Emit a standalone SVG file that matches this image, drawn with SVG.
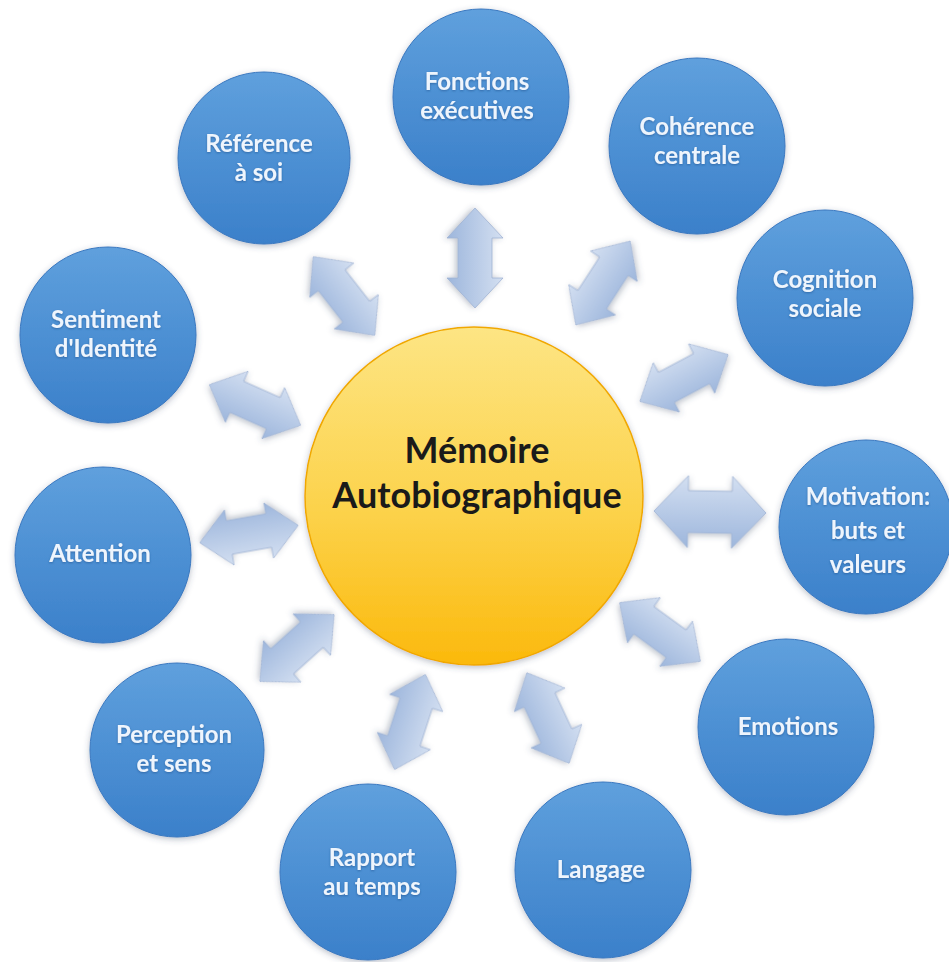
<svg xmlns="http://www.w3.org/2000/svg" xmlns:xlink="http://www.w3.org/1999/xlink" width="949" height="962" viewBox="0 0 949 962">
<defs>
<linearGradient id="gBlue" x1="0" y1="0" x2="0" y2="1">
<stop offset="0" stop-color="#5fa0dd"/>
<stop offset="1" stop-color="#3b80ca"/>
</linearGradient>
<linearGradient id="gSun" x1="0" y1="0" x2="0" y2="1">
<stop offset="0" stop-color="#fde584"/>
<stop offset="0.55" stop-color="#fcd24a"/>
<stop offset="1" stop-color="#fbb90c"/>
</linearGradient>
<linearGradient id="gArrow" x1="0" y1="0" x2="0" y2="1">
<stop offset="0" stop-color="#d3dff1"/>
<stop offset="1" stop-color="#9db6dc"/>
</linearGradient>
<filter id="shadow" x="-20%" y="-20%" width="140%" height="140%">
<feDropShadow dx="0" dy="2" stdDeviation="3" flood-color="#3a4a66" flood-opacity="0.35"/>
</filter>
<filter id="tshadow" x="-10%" y="-20%" width="120%" height="150%">
<feDropShadow dx="0" dy="1" stdDeviation="0.8" flood-color="#1d4f8a" flood-opacity="0.6"/>
</filter>
<path id="a100" d="M-50 0 L-20 -28 L-20 -17 L20 -17 L20 -28 L50 0 L20 28 L20 17 L-20 17 L-20 28 Z"/>
<path id="abig" d="M-56 0 L-22 -36 L-22 -21 L22 -21 L22 -36 L56 0 L22 36 L22 21 L-22 21 L-22 36 Z"/>
<style>
.node circle{fill:url(#gBlue);stroke:#3a78c0;stroke-width:1;filter:url(#shadow)}
.node text{font-family:Lato,"Open Sans","Liberation Sans",sans-serif;font-weight:700;font-size:24px;fill:#eef5fd;text-anchor:middle;filter:url(#tshadow)}
.center circle{fill:url(#gSun);stroke:#f0a800;stroke-width:1.5;filter:url(#shadow)}
.center text{font-family:Lato,"Open Sans","Liberation Sans",sans-serif;font-weight:700;font-size:36px;fill:#1a1a1a;text-anchor:middle}
.arr use{fill:url(#gArrow);stroke:#9fb3d3;stroke-width:0.8;filter:url(#shadow)}
</style>
</defs>
<rect width="949" height="962" fill="#ffffff"/>

<g id="connectors" class="arr">
<use href="#a100" transform="translate(475,258) rotate(90)"/>
<use href="#a100" transform="translate(603,283) rotate(-57)"/>
<use href="#a100" transform="translate(684,378) rotate(-28)"/>
<use href="#abig" transform="translate(710,512) rotate(1)"/>
<use href="#a100" transform="translate(660,632) rotate(36)"/>
<use href="#a100" transform="translate(548,718) rotate(65)"/>
<use href="#a100" transform="translate(410,722) rotate(108)"/>
<use href="#a100" transform="translate(297,648) rotate(138)"/>
<use href="#a100" transform="translate(249,534) rotate(170)"/>
<use href="#a100" transform="translate(255,405) rotate(24)"/>
<use href="#a100" transform="translate(344,296) rotate(52)"/>
</g>

<g id="memoire" class="center">
<circle cx="474" cy="496" r="169"/>
<text x="477" y="463">Mémoire</text>
<text x="477" y="508">Autobiographique</text>
</g>

<g id="fonctions" class="node">
<circle cx="481" cy="97" r="88"/>
<text x="477" y="90">Fonctions</text>
<text x="477" y="119">exécutives</text>
</g>

<g id="coherence" class="node">
<circle cx="697" cy="146" r="88"/>
<text x="697" y="135">Cohérence</text>
<text x="697" y="164">centrale</text>
</g>

<g id="cognition" class="node">
<circle cx="825" cy="298" r="88"/>
<text x="825" y="288">Cognition</text>
<text x="825" y="317">sociale</text>
</g>

<g id="motivation" class="node">
<circle cx="866" cy="527" r="87"/>
<text x="868" y="505">Motivation:</text>
<text x="868" y="539">buts et</text>
<text x="868" y="573">valeurs</text>
</g>

<g id="emotions" class="node">
<circle cx="786" cy="727" r="88"/>
<text x="788" y="735">Emotions</text>
</g>

<g id="langage" class="node">
<circle cx="603" cy="870" r="88"/>
<text x="601" y="878">Langage</text>
</g>

<g id="rapport" class="node">
<circle cx="368" cy="872" r="88"/>
<text x="372" y="866">Rapport</text>
<text x="372" y="895">au temps</text>
</g>

<g id="perception" class="node">
<circle cx="177" cy="750" r="87"/>
<text x="174" y="743">Perception</text>
<text x="174" y="772">et sens</text>
</g>

<g id="attention" class="node">
<circle cx="103" cy="555" r="88"/>
<text x="100" y="562">Attention</text>
</g>

<g id="sentiment" class="node">
<circle cx="108" cy="335" r="88"/>
<text x="106" y="328">Sentiment</text>
<text x="106" y="357">d'Identité</text>
</g>

<g id="reference" class="node">
<circle cx="264" cy="158" r="86"/>
<text x="259" y="152">Référence</text>
<text x="259" y="181">à soi</text>
</g>
</svg>
